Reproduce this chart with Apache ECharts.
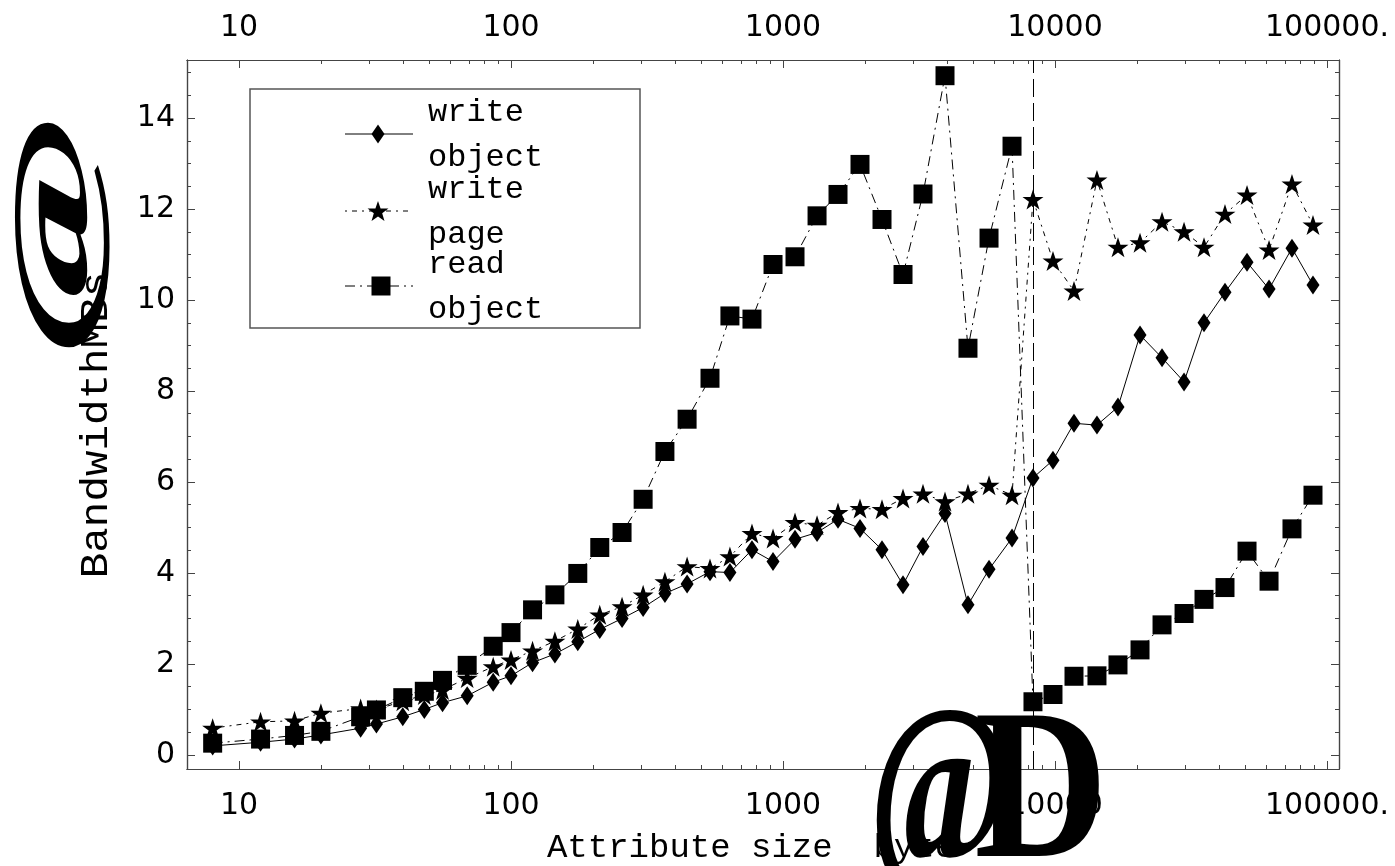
<!DOCTYPE html>
<html><head><meta charset="utf-8">
<script src="https://cdn.jsdelivr.net/npm/echarts@6/dist/echarts.min.js"></script>
<style>html,body{margin:0;padding:0;background:#fff;}#c{width:1395px;height:866px;}</style>
</head><body><div id="c"></div>
<script>
// ---- data ----
const sizes = [8,12,16,20,28,32,40,48,56,69,86,100,120,145,176,212,256,306,368,444,539,638,769,919,1107,1334,1593,1919,2312,2762,3271,3941,4787,5721,6950,8299,9831,11745,14266,17045,20540,24746,29817,35306,42170,50815,61226,74349,88823];
const writeObject = [0.20,0.28,0.35,0.44,0.59,0.68,0.84,1.00,1.15,1.30,1.60,1.74,2.03,2.22,2.49,2.76,3.00,3.24,3.55,3.76,4.03,4.01,4.51,4.25,4.74,4.89,5.18,4.98,4.51,3.74,4.58,5.31,3.30,4.08,4.77,6.09,6.48,7.29,7.25,7.65,9.23,8.73,8.20,9.50,10.17,10.83,10.24,11.14,10.33];
const writePage = [0.59,0.73,0.75,0.92,1.02,1.00,1.18,1.32,1.43,1.69,1.94,2.09,2.29,2.50,2.77,3.08,3.26,3.52,3.81,4.14,4.10,4.36,4.87,4.76,5.11,5.05,5.33,5.42,5.40,5.64,5.74,5.57,5.74,5.93,5.71,12.21,10.86,10.20,12.64,11.16,11.26,11.72,11.50,11.16,11.89,12.31,11.10,12.55,11.65];
const readObject = [0.26,0.35,0.43,0.52,0.84,0.99,1.26,1.40,1.64,1.97,2.39,2.69,3.19,3.52,3.99,4.56,4.89,5.62,6.67,7.38,8.28,9.65,9.58,10.78,10.95,11.85,12.32,12.98,11.77,10.56,12.33,14.93,8.94,11.36,13.38,1.17,1.33,1.73,1.74,1.98,2.31,2.86,3.11,3.42,3.68,4.48,3.82,4.97,5.71];
const seriesNames = ['write\nobject','write\npage','read\nobject'];
const xTickLabels = [10,100,1000,10000,100000];
const xMinorTicks = [20,30,40,50,60,70,80,90,200,300,400,500,600,700,800,900,2000,3000,4000,5000,6000,7000,8000,9000,20000,30000,40000,50000,60000,70000,80000,90000];
const yTickLabels = [0,2,4,6,8,10,12,14];
const yMinorTicks = [0.5,1,1.5,2.5,3,3.5,4.5,5,5.5,6.5,7,7.5,8.5,9,9.5,10.5,11,11.5,12.5,13,13.5,14.5,15];
const markerSize = 8300;
const xAxisTitle = 'Attribute size  byte';
const yAxisTitle = 'BandwidthMBs';

// ---- layout constants ----
const X_MIN = 6.438, X_MAX = 110700, Y_MIN = -0.308, Y_MAX = 15.275;
const AXC = '#444';
const tickFont = {fontFamily:'DejaVu Sans', fontSize:30, color:'#000'};
const mono = '"Liberation Mono", "Courier New", monospace';

const starPath = 'path://M50,0 L61.8,35.3 L100,35.3 L69.1,57.1 L80.9,92.7 L50,70.9 L19.1,92.7 L30.9,57.1 L0,35.3 L38.2,35.3 Z';
const pageDash = [2,5,5,5];
const readDash = [10,5,2,5];

function xAx(pos, major, labels) {
  return {
    type:'log', logBase:10, min:X_MIN, max:X_MAX, position:pos, gridIndex:0,
    axisLine:{show:true, onZero:false, lineStyle:{color:AXC, width:1.2}},
    axisTick:{show:true, inside:true, length: major?8:4, customValues: major?xTickLabels:xMinorTicks, lineStyle:{color:AXC, width:1}},
    axisLabel:{show:labels, customValues:xTickLabels, margin: pos==='top'?17:22, ...tickFont,
      formatter:v => (v >= 100000 ? '100000.' : String(Math.round(v)))},
    splitLine:{show:false}, minorTick:{show:false}
  };
}
function yAx(pos, major, labels) {
  return {
    type:'value', min:Y_MIN, max:Y_MAX, position:pos, gridIndex:0,
    axisLine:{show:true, onZero:false, lineStyle:{color:AXC, width:1.2}},
    axisTick:{show:true, inside:true, length: major?8:4, customValues: major?yTickLabels:yMinorTicks, lineStyle:{color:AXC, width:1}},
    axisLabel:{show:labels, customValues:yTickLabels, margin:12, ...tickFont},
    splitLine:{show:false}
  };
}

function mk(name, vals, symbol, size, dash, z) {
  return {
    name, type:'line', xAxisIndex:0, yAxisIndex:0, z,
    data: sizes.map((s,i)=>[s, vals[i]]),
    symbol, symbolSize:size, showSymbol:true,
    itemStyle:{color:'#000', borderWidth:0},
    lineStyle:{color:'#000', width:1, type:dash},
    animation:false
  };
}

const series = [
  mk(seriesNames[0], writeObject, 'diamond', [13,19], 'solid', 3),
  mk(seriesNames[1], writePage, starPath, [21,20], pageDash, 4),
  mk(seriesNames[2], readObject, 'rect', [19,19], readDash, 5)
];
series[0].markLine = {
  silent:true, symbol:['none','none'], label:{show:false},
  lineStyle:{color:'#000', width:1, type:[18,6]},
  data:[{xAxis: markerSize}], animation:false
};

// legend graphics
function starPts(cx, cy, R, r) {
  const p = [];
  for (let i=0;i<10;i++){
    const a = -Math.PI/2 + i*Math.PI/5;
    const rad = i%2===0 ? R : r;
    p.push([cx + rad*Math.cos(a), cy + rad*Math.sin(a)]);
  }
  return p;
}
const LX0 = 345, LX1 = 413, LXC = 378, TX = 428;
const legendY = [134, 211, 286];
const graphic = [
  {type:'rect', shape:{x:250, y:89, width:390, height:239}, style:{fill:'#fff', stroke:'#555', lineWidth:1.5}, z:10},
  {type:'line', shape:{x1:LX0,y1:legendY[0],x2:LX1,y2:legendY[0]}, style:{stroke:'#000', lineWidth:1}, z:11},
  {type:'polygon', shape:{points:[[LXC,legendY[0]-9.5],[LXC+6.5,legendY[0]],[LXC,legendY[0]+9.5],[LXC-6.5,legendY[0]]]}, style:{fill:'#000'}, z:12},
  {type:'line', shape:{x1:LX0,y1:legendY[1],x2:LX1,y2:legendY[1]}, style:{stroke:'#000', lineWidth:1, lineDash:pageDash}, z:11},
  {type:'polygon', shape:{points:starPts(LXC, legendY[1]+1, 11, 4.4)}, style:{fill:'#000'}, z:12},
  {type:'line', shape:{x1:LX0,y1:legendY[2],x2:LX1,y2:legendY[2]}, style:{stroke:'#000', lineWidth:1, lineDash:readDash}, z:11},
  {type:'rect', shape:{x:LXC-6.5, y:legendY[2]-9.5, width:19, height:19}, style:{fill:'#000'}, z:12},
  ...seriesNames.map((t,i)=>({type:'text', x:TX, y:legendY[i]+1, z:12,
    style:{text:t, font:'32px '+mono, fill:'#000', align:'left', verticalAlign:'middle', lineHeight:45}})),
  // garbled bracket glyphs
  {type:'text', x:940, y:802, scaleX:0.9, scaleY:1.32, z:20,
    style:{text:'@', font:'bold 170px "Liberation Serif"', fill:'#000', align:'center', verticalAlign:'middle'}},
  {type:'text', x:1041, y:800, scaleX:0.86, z:21,
    style:{text:'D', font:'bold 215px "Liberation Serif"', fill:'#000', align:'center', verticalAlign:'middle'}},
  {type:'text', x:60, y:235, rotation:Math.PI/2, scaleX:1.6, scaleY:0.65, z:20,
    style:{text:'@', font:'bold 170px "Liberation Serif"', fill:'#000', align:'center', verticalAlign:'middle'}},
  // axis titles
  {type:'text', x:751, y:848, z:22,
    style:{text:xAxisTitle, font:'34px '+mono, fill:'#000', align:'center', verticalAlign:'middle'}},
  {type:'text', x:97, y:425, rotation:Math.PI/2, scaleX:1.12, z:22,
    style:{text:yAxisTitle, font:'38px '+mono, fill:'#000', align:'center', verticalAlign:'middle'}}
];

const chart = echarts.init(document.getElementById('c'), null, {renderer:'canvas'});
chart.setOption({
  animation:false,
  backgroundColor:'#fff',
  grid:{left:187, right:56, top:60, bottom:97, containLabel:false, outerBoundsMode:'none'},
  xAxis:[xAx('bottom',true,true), xAx('bottom',false,false), xAx('top',true,true), xAx('top',false,false)],
  yAxis:[yAx('left',true,true), yAx('left',false,false), yAx('right',true,false), yAx('right',false,false)],
  series,
  graphic
});
</script></body></html>
